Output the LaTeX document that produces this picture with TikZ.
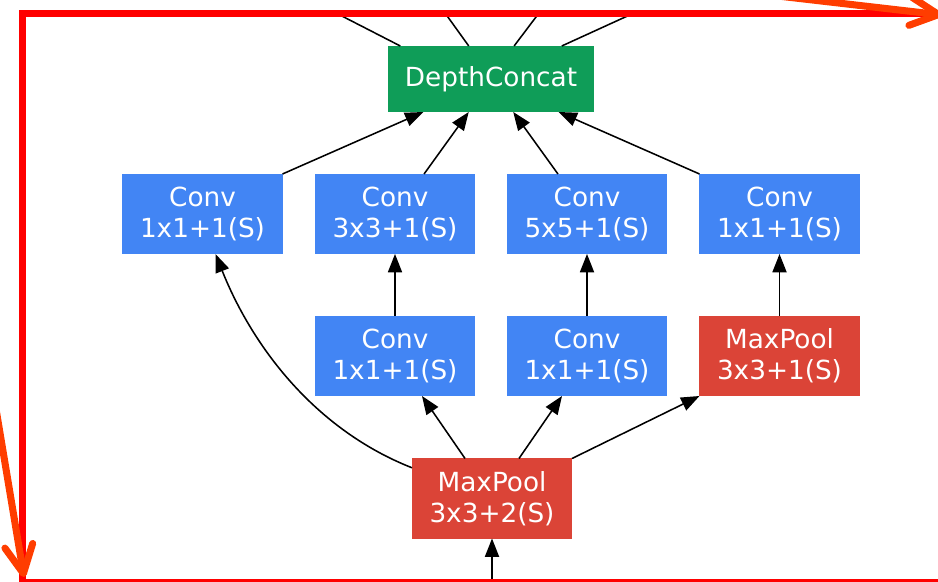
\documentclass[tikz,border=0pt]{standalone}
\usepackage{fontspec}
\setmainfont{DejaVu Sans}
\usetikzlibrary{arrows.meta}

\definecolor{convblue}{HTML}{4285F4}
\definecolor{poolred}{HTML}{DB4437}
\definecolor{concatgreen}{HTML}{0F9D58}
\definecolor{framered}{HTML}{FF0000}
\definecolor{markorange}{HTML}{FF3D00}

\begin{document}
\begin{tikzpicture}[x=0.025cm,y=-0.025cm,
	layerbox/.style={
		text=white, align=center, inner sep=0pt, outer sep=0pt,
		minimum width=4cm, minimum height=2cm,
		font=\fontsize{18.7}{22}\selectfont
	},
	convbox/.style={layerbox, fill=convblue},
	poolbox/.style={layerbox, fill=poolred},
	concatbox/.style={layerbox, fill=concatgreen, minimum width=5.15cm, minimum height=1.65cm},
	wire/.style={line width=1.1pt},
	flow/.style={wire, -{Triangle[length=13pt,width=10pt]}},
	marker/.style={markorange, line width=5pt, line cap=round,
		-{Straight Barb[round,length=20pt,width=20pt]}}
	]
	% Page size and cut
	\useasboundingbox (0,0) rectangle (938,582);
	\clip (0,0) rectangle (938,582);
	
	% Concat layer
	\node[concatbox] (concat) at (491,79) {DepthConcat};
	
	% Upper convolutions
	\node[convbox] (c1x1) at (202.5,214) {Conv\\1x1+1(S)};
	\node[convbox] (c3x3) at (395,214) {Conv\\3x3+1(S)};
	\node[convbox] (c5x5) at (587,214) {Conv\\5x5+1(S)};
	\node[convbox] (cproj) at (779.5,214) {Conv\\1x1+1(S)};
	
	% Reductions and pooling
	\node[convbox] (r3x3) at (395,356) {Conv\\1x1+1(S)};
	\node[convbox] (r5x5) at (587,356) {Conv\\1x1+1(S)};
	\node[poolbox] (mpool) at (779.5,356) {MaxPool\\3x3+1(S)};
	
	% Input pooling
	\node[poolbox] (maxpool) at (492,498.5) {MaxPool\\3x3+2(S)};
	
	% Loose ends outside the frame
	\coordinate (input) at (492,590);
	\coordinate (outA) at (336,13);
	\coordinate (outB) at (445,13);
	\coordinate (outC) at (539,13);
	\coordinate (outD) at (634,13);
	
	% Edges into the module
	\draw[flow] (input) -- (maxpool.south);
	\draw[flow] (maxpool.159) .. controls (316,430) and (253,348) .. (c1x1.-72.6);
	\draw[flow] (maxpool.124.4) -- (r3x3.-56);
	\draw[flow] (maxpool.56.6) -- (r5x5.-122);
	\draw[flow] (maxpool.north east) -- (mpool.south west);
	
	% Reductions to convolutions
	\draw[flow] (r3x3) -- (c3x3);
	\draw[flow] (r5x5) -- (c5x5);
	\draw[flow] (mpool) -- (cproj);
	
	% Branches to concat
	\draw[flow] (c1x1.north east) -- (concat.-154.1);
	\draw[flow] (c3x3.54) -- (concat.-124.9);
	\draw[flow] (c5x5.126) -- (concat.-56.3);
	\draw[flow] (cproj.north west) -- (concat.-26.2);
	
	% Edges leaving the module
	\draw[wire] (concat.160.1) -- (outA);
	\draw[wire] (concat.124.9) -- (outB);
	\draw[wire] (concat.55.1) -- (outC);
	\draw[wire] (concat.25.6) -- (outD);
	
	% Highlight frame
	\draw[framered, line width=5pt] (22.5,13.5) rectangle (970,582.5);
	
	% Pointer arrows
	\draw[marker] (-10,373) -- (24,577);
	\draw[marker] (700,-13) -- (942,15);
\end{tikzpicture}
\end{document}
